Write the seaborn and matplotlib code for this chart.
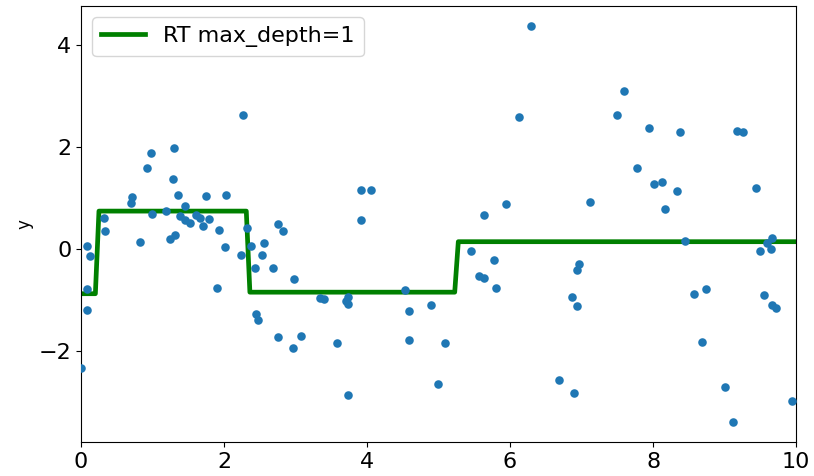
import numpy as np
import pandas as pd
import matplotlib
matplotlib.use("Agg")
import matplotlib.pyplot as plt
from matplotlib.ticker import MultipleLocator
import seaborn as sns

# Noisy sample points
x_pts = [0.72, 0.70, 1.36, 1.75, 2.03, 0.99, 1.19, 1.45, 1.38, 1.45,
         1.52, 1.61, 1.66, 1.79, 1.71, 1.93, 0.82, 1.24, 1.32, 2.01,
         2.32, 2.38, 2.56, 2.24, 2.53, 1.29, 2.26, 0.98, 1.30, 0.92,
         0.32, 0.34, 2.75, 0.09, 0.13, 0.09, 0.09, 0.00, 1.90, 2.44,
         2.69, 2.45, 2.47, 2.76, 2.82, 6.29, 6.12, 3.92, 4.05, 3.92,
         5.64, 5.95, 2.98, 3.34, 3.40, 3.71, 3.74, 3.73, 3.08, 2.96,
         3.58, 3.73, 4.53, 4.58, 4.90, 4.59, 5.09, 4.99, 5.46, 5.78,
         5.56, 5.64, 5.81, 7.60, 7.49, 7.95, 8.38, 9.18, 9.26, 7.78,
         8.01, 8.13, 8.34, 9.44, 7.12, 8.16, 8.44, 9.67, 9.60, 9.50,
         9.65, 6.97, 6.94, 6.86, 6.93, 8.57, 8.74, 9.55, 9.67, 9.72,
         8.69, 6.69, 6.89, 9.00, 9.12, 9.94]
y_pts = [1.03, 0.90, 1.07, 1.05, 1.07, 0.69, 0.75, 0.85, 0.65, 0.58,
         0.52, 0.67, 0.61, 0.59, 0.45, 0.38, 0.14, 0.20, 0.28, 0.04,
         0.41, 0.07, 0.12, -0.12, -0.12, 1.37, 2.63, 1.88, 1.98, 1.59,
         0.61, 0.35, 0.49, 0.06, -0.13, -0.78, -1.18, -2.32, -0.75, -0.37,
         -0.37, -1.26, -1.39, -1.71, 0.35, 4.38, 2.59, 1.16, 1.16, 0.57,
         0.67, 0.89, -0.58, -0.96, -0.97, -1.01, -0.93, -1.08, -1.70, -1.93,
         -1.83, -2.86, -0.80, -1.20, -1.10, -1.78, -1.84, -2.65, -0.03, -0.20,
         -0.52, -0.56, -0.76, 3.10, 2.63, 2.37, 2.31, 2.32, 2.30, 1.60,
         1.28, 1.33, 1.14, 1.21, 0.93, 0.80, 0.16, 0.23, 0.13, -0.03,
         0.00, -0.28, -0.41, -0.93, -1.12, -0.87, -0.78, -0.90, -1.09, -1.16,
         -1.82, -2.56, -2.81, -2.69, -3.39, -2.97]

# Regression tree prediction: split thresholds and leaf values
split_points = [0.22, 2.35, 5.27]
leaf_values = [-0.87, 0.75, -0.84, 0.15]

x_grid = np.linspace(0.0, 10.0, 200)
y_pred = np.asarray(leaf_values)[np.searchsorted(split_points, x_grid)]

points = pd.DataFrame({"x": x_pts, "y": y_pts})
pred = pd.DataFrame({"x": x_grid, "y": y_pred})

fig = plt.figure(figsize=(8.14, 4.76), dpi=100)
ax = fig.add_axes([0.0995, 0.0714, 0.8785, 0.9156])

sns.scatterplot(data=points, x="x", y="y", color="#1f77b4", s=38,
                linewidth=0, ax=ax, zorder=3)
sns.lineplot(data=pred, x="x", y="y", color="green", linewidth=3.4,
             estimator=None, sort=False, label="RT max_depth=1", ax=ax,
             zorder=2)

ax.set_xlim(0, 10)
ax.yaxis.set_major_locator(MultipleLocator(2))
ax.xaxis.set_major_locator(MultipleLocator(2))
ax.set_xlabel("")
ax.set_ylabel("y", fontsize=12)
ax.tick_params(axis="both", labelsize=16)
ax.legend(loc="upper left", fontsize=16)

fig.savefig("out.png", dpi=100)
